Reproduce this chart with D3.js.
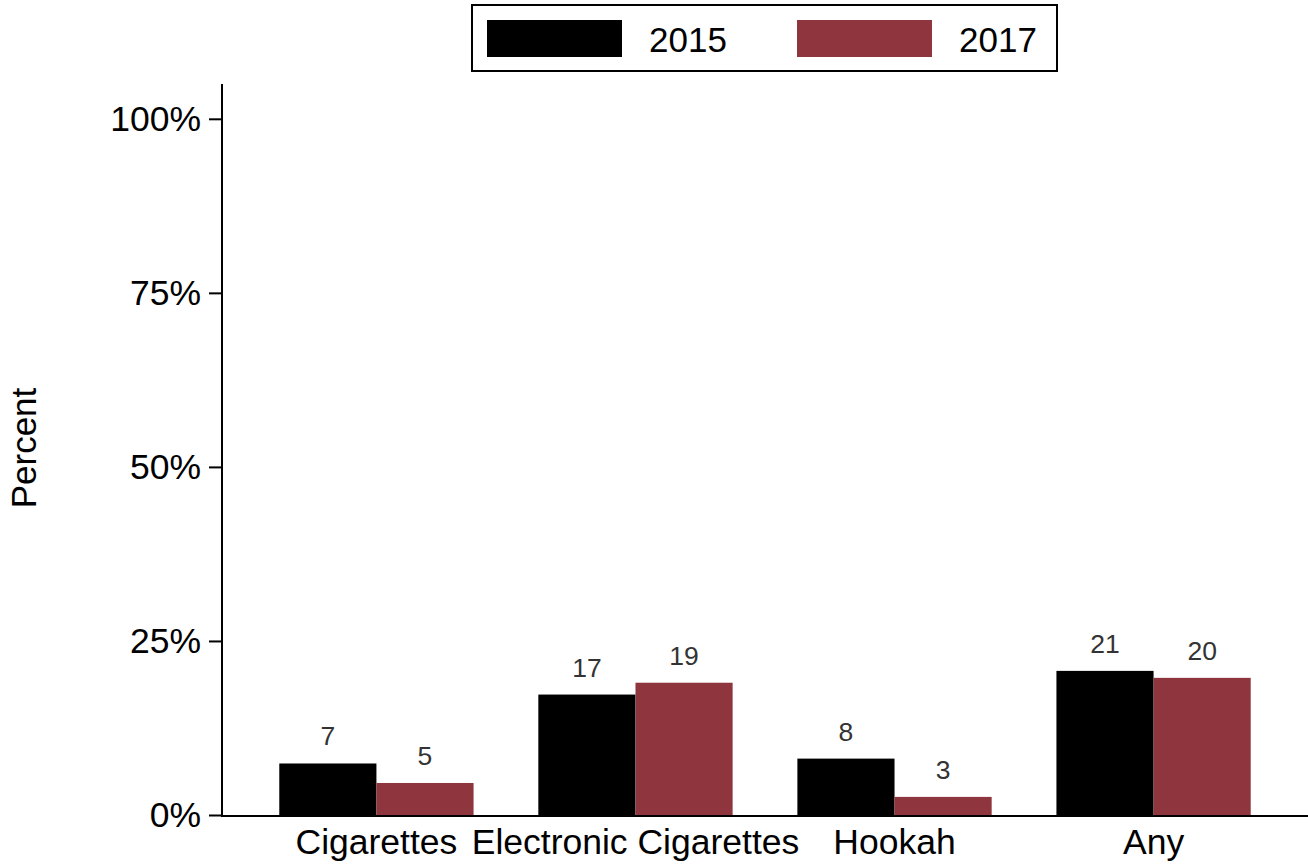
<!DOCTYPE html>
<html>
<head>
<meta charset="utf-8">
<script src="https://cdn.jsdelivr.net/npm/d3@7"></script>
<style>
  html, body { margin: 0; padding: 0; background: #fff; }
  svg { display: block; font-family: "Liberation Sans", Arial, Helvetica, sans-serif; }
</style>
</head>
<body>
<svg id="chart" width="1308" height="866"></svg>
<script>
// ---- data ----
const categories = ["Cigarettes", "Electronic Cigarettes", "Hookah", "Any"];
const years = ["2015", "2017"];
const values2015 = [7.4, 17.3, 8.1, 20.7];
const values2017 = [4.6, 19.0, 2.6, 19.7];
const yTicks = [0, 25, 50, 75, 100];
const colors = ["#000000", "#8E353E"];

const svg = d3.select("#chart");
const x0 = d3.scaleBand().domain(categories).range([221, 1309]).paddingInner(0.25).paddingOuter(0.225);
const x1 = d3.scaleBand().domain(years).range([0, x0.bandwidth()]).padding(0);
const y = d3.scaleLinear().domain([0, 105]).range([815, 84]);
const color = d3.scaleOrdinal().domain(years).range(colors);

const rows = categories.map((c, i) => ({ cat: c, vals: [
  { year: "2015", v: values2015[i] },
  { year: "2017", v: values2017[i] }
]}));

// bars
const g = svg.append("g");
const groups = g.selectAll("g.grp").data(rows).join("g")
  .attr("transform", d => `translate(${x0(d.cat)},0)`);
groups.selectAll("rect").data(d => d.vals).join("rect")
  .attr("x", d => x1(d.year))
  .attr("y", d => y(d.v))
  .attr("width", x1.bandwidth())
  .attr("height", d => y(0) - y(d.v))
  .attr("fill", d => color(d.year));
groups.selectAll("text").data(d => d.vals).join("text")
  .attr("x", d => x1(d.year) + x1.bandwidth() / 2)
  .attr("y", d => y(d.v) - 18)
  .attr("text-anchor", "middle")
  .attr("font-size", 26.5)
  .attr("fill", "#333")
  .text(d => Math.round(d.v));

// y axis
const yAxis = svg.append("g").attr("transform", "translate(222,0)")
  .call(d3.axisLeft(y).tickValues(yTicks).tickFormat(d => d + "%").tickSize(13).tickPadding(8));
yAxis.select(".domain").attr("stroke", "#000").attr("stroke-width", 2)
  .attr("d", `M0,${y(105)}V${y(0)}`);
yAxis.selectAll(".tick line").attr("stroke", "#000").attr("stroke-width", 2);
yAxis.selectAll(".tick text").attr("font-size", 35.5).attr("fill", "#000")
  .attr("font-family", "Liberation Sans, Arial, sans-serif");

// x axis
const xAxis = svg.append("g").attr("transform", "translate(0,816)")
  .call(d3.axisBottom(x0).tickSize(0).tickPadding(13));
xAxis.select(".domain").attr("stroke", "#000").attr("stroke-width", 2)
  .attr("d", "M221,0H1308");
xAxis.selectAll(".tick text").attr("font-size", 35.5).attr("fill", "#000")
  .attr("font-family", "Liberation Sans, Arial, sans-serif");

// y label
svg.append("text")
  .attr("transform", "translate(36,448) rotate(-90)")
  .attr("text-anchor", "middle")
  .attr("font-size", 35)
  .attr("fill", "#000")
  .text("Percent");

// legend
const lg = svg.append("g");
lg.append("rect").attr("x", 472).attr("y", 5).attr("width", 585).attr("height", 66)
  .attr("fill", "#fff").attr("stroke", "#000").attr("stroke-width", 2);
const legX = [487, 797];
years.forEach((yr, i) => {
  lg.append("rect").attr("x", legX[i]).attr("y", 20).attr("width", 135).attr("height", 37)
    .attr("fill", color(yr));
  lg.append("text").attr("x", legX[i] + 162).attr("y", 52)
    .attr("font-size", 35).attr("fill", "#000").text(yr);
});
</script>
</body>
</html>
